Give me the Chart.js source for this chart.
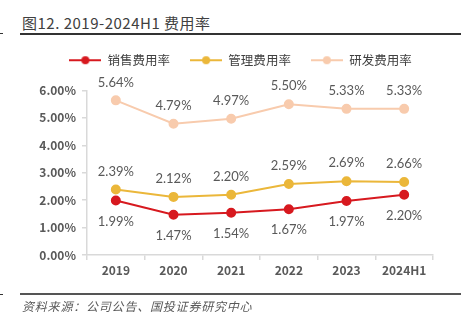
<!DOCTYPE html>
<html>
<head>
<meta charset="utf-8">
<script src="https://cdn.jsdelivr.net/npm/chart.js@4.4.1/dist/chart.umd.min.js"></script>
<style>
  html, body { margin: 0; padding: 0; background: #fff; }
  #wrap { position: relative; width: 469px; height: 325px; overflow: hidden; }
  #chart { position: absolute; left: 0; top: 0; }
  .title {
    position: absolute; left: 22px; top: 12px;
    font: 15px "Noto Sans CJK SC", sans-serif; color: #404040; white-space: nowrap;
    letter-spacing: 0.5px;
  }
  .rule { position: absolute; background: #333; }
  .source {
    position: absolute; left: 22px; top: 297px;
    font: italic 12px "Noto Sans CJK SC", sans-serif; color: #595959;
    letter-spacing: 0.8px; white-space: nowrap;
  }
</style>
</head>
<body>
<div id="wrap">
  <div class="title">图12. 2019-2024H1 费用率</div>
  <div class="rule" style="left:20px;top:33px;width:441px;height:1.5px;"></div>
  <div class="rule" style="left:0;top:33px;width:3px;height:1px;"></div>
  <canvas id="chart" width="469" height="325"></canvas>
  <div class="rule" style="left:20px;top:293px;width:441px;height:2px;background:#555;"></div>
  <div class="rule" style="left:0;top:294px;width:3px;height:1px;"></div>
  <div class="source">资料来源：公司公告、国投证券研究中心</div>
</div>
<script>
const years = ["2019", "2020", "2021", "2022", "2023", "2024H1"];
const salesRate = [1.99, 1.47, 1.54, 1.67, 1.97, 2.20];
const adminRate = [2.39, 2.12, 2.20, 2.59, 2.69, 2.66];
const rdRate = [5.64, 4.79, 4.97, 5.50, 5.33, 5.33];
const yTicks = [0, 1, 2, 3, 4, 5, 6];

const RED = "#d7191f";
const GOLD = "#ebb73a";
const PEACH = "#f8cbad";

// legend marker: short line with a dot in the middle
function marker(color) {
  const c = document.createElement("canvas");
  c.width = 32;
  c.height = 10;
  const g = c.getContext("2d");
  g.strokeStyle = color;
  g.lineWidth = 2;
  g.beginPath();
  g.moveTo(0, 5);
  g.lineTo(32, 5);
  g.stroke();
  g.fillStyle = color;
  g.beginPath();
  g.arc(16, 5, 4, 0, Math.PI * 2);
  g.fill();
  return c;
}

// value labels above (or below) each point
const valueLabels = {
  id: "valueLabels",
  afterDatasetsDraw(chart) {
    const ctx = chart.ctx;
    ctx.save();
    ctx.font = "13px Lato, sans-serif";
    ctx.fillStyle = "#595959";
    ctx.textAlign = "center";
    ctx.textBaseline = "middle";
    chart.data.datasets.forEach((ds, i) => {
      const meta = chart.getDatasetMeta(i);
      meta.data.forEach((pt, j) => {
        const dy = ds.labelBelow ? 21 : -18;
        ctx.fillText(ds.data[j].toFixed(2) + "%", pt.x, pt.y + dy);
      });
    });
    ctx.restore();
  },
};

// extra room under the legend, and nudge it right over the plot
const legendGap = {
  id: "legendGap",
  beforeUpdate(chart) {
    const legend = chart.legend;
    if (!legend || legend._gapPatched) return;
    const fit = legend.fit;
    legend.fit = function () {
      fit.call(this);
      this.height += 14;
    };
    legend._gapPatched = true;
  },
  afterLayout(chart) {
    const legend = chart.legend;
    if (!legend) return;
    legend.left += 24;
    legend.right += 24;
  },
};

const series = [
  { label: "销售费用率", data: salesRate, color: RED, below: true },
  { label: "管理费用率", data: adminRate, color: GOLD, below: false },
  { label: "研发费用率", data: rdRate, color: PEACH, below: false },
];

new Chart(document.getElementById("chart"), {
  type: "line",
  data: {
    labels: years,
    datasets: series.map((s) => ({
      label: s.label,
      data: s.data,
      borderColor: s.color,
      backgroundColor: s.color,
      borderWidth: 2,
      pointRadius: 4,
      pointHoverRadius: 4,
      pointStyle: "circle",
      legendMarker: marker(s.color),
      labelBelow: s.below,
      tension: 0,
    })),
  },
  options: {
    responsive: false,
    animation: false,
    events: [],
    layout: { padding: { top: 34, left: 0, right: 36, bottom: 40 } },
    plugins: {
      tooltip: { enabled: false },
      legend: {
        position: "top",
        labels: {
          usePointStyle: true,
          pointStyleWidth: 32,
          boxHeight: 10,
          padding: 20,
          color: "#404040",
          font: { family: "'Noto Sans CJK SC'", size: 12.5 },
          generateLabels(chart) {
            return chart.data.datasets.map((ds, i) => ({
              text: ds.label,
              pointStyle: ds.legendMarker,
              fillStyle: ds.borderColor,
              strokeStyle: ds.borderColor,
              fontColor: "#404040",
              lineWidth: 0,
              datasetIndex: i,
              hidden: false,
            }));
          },
        },
      },
    },
    scales: {
      x: {
        offset: true,
        afterFit(scale) { scale.height = 30; },
        grid: {
          offset: true,
          drawOnChartArea: false,
          color: "#d9d9d9",
          lineWidth: 1.5,
          tickLength: 5,
        },
        border: { color: "#d9d9d9", width: 1.5 },
        ticks: {
          color: "#595959",
          padding: 3,
          font: { family: "'Noto Sans CJK SC'", size: 12, weight: "bold" },
        },
      },
      y: {
        min: 0,
        max: 6,
        afterFit(scale) { scale.width = 87; },
        afterBuildTicks(scale) { scale.ticks = yTicks.map((v) => ({ value: v })); },
        grid: {
          drawOnChartArea: false,
          color: "#d9d9d9",
          lineWidth: 1.5,
          tickLength: 5,
        },
        border: { color: "#d9d9d9", width: 1.5 },
        ticks: {
          color: "#595959",
          padding: 6,
          font: { family: "'Noto Sans CJK SC'", size: 12, weight: "bold" },
          callback: (v) => v.toFixed(2) + "%",
        },
      },
    },
  },
  plugins: [valueLabels, legendGap],
});
</script>
</body>
</html>
